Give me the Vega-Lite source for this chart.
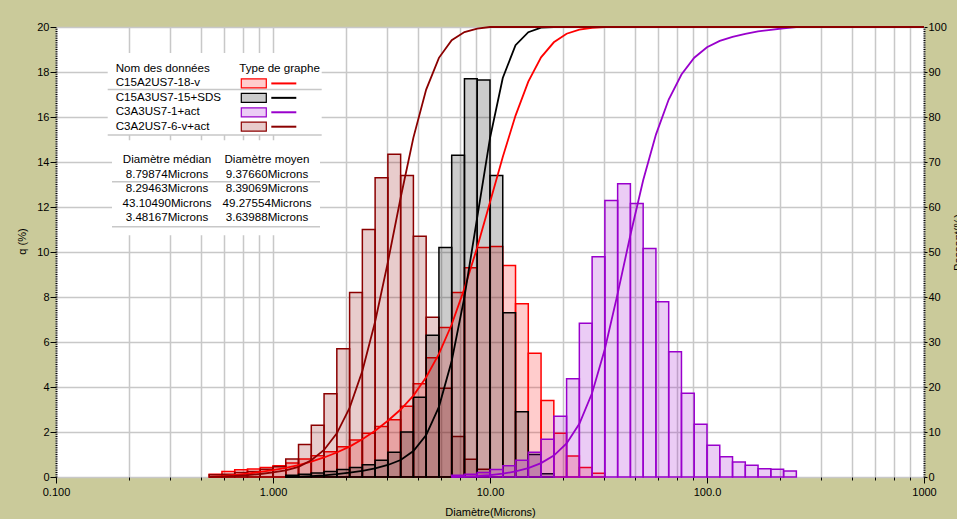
{
"$schema":"https://vega.github.io/schema/vega-lite/v6.json",
"width":868,"height":450,
"autosize":{"type":"none"},
"padding":{"left":56,"top":27,"right":33,"bottom":42},
"background":"#caca9a",
"config":{
 "view":{"fill":"white","stroke":null},
 "font":"Liberation Sans",
 "axis":{"labelFont":"Liberation Sans","labelFontSize":11,"labelColor":"#000000","titleFont":"Liberation Sans","titleFontSize":11,"titleFontWeight":"normal","titleColor":"#000000","tickColor":"#000000","gridColor":"#c8c8c8","gridWidth":1.5,"labelFlush":false,"labelOverlap":false,"domainColor":"#000000"},
 "text":{"font":"Liberation Sans","fontSize":11}
},
"datasets":{
 "bars":[
  {"s":"C15A2US7-18-v","lo":0.508,"hi":0.5817,"q":0.12},
  {"s":"C15A2US7-18-v","lo":0.5817,"hi":0.6661,"q":0.25},
  {"s":"C15A2US7-18-v","lo":0.6661,"hi":0.7627,"q":0.32},
  {"s":"C15A2US7-18-v","lo":0.7627,"hi":0.8733,"q":0.36},
  {"s":"C15A2US7-18-v","lo":0.8733,"hi":1,"q":0.42},
  {"s":"C15A2US7-18-v","lo":1,"hi":1.145,"q":0.5},
  {"s":"C15A2US7-18-v","lo":1.145,"hi":1.3111,"q":0.62},
  {"s":"C15A2US7-18-v","lo":1.3111,"hi":1.5013,"q":0.8},
  {"s":"C15A2US7-18-v","lo":1.5013,"hi":1.719,"q":0.95},
  {"s":"C15A2US7-18-v","lo":1.719,"hi":1.9684,"q":1.12},
  {"s":"C15A2US7-18-v","lo":1.9684,"hi":2.2539,"q":1.35},
  {"s":"C15A2US7-18-v","lo":2.2539,"hi":2.5808,"q":1.65},
  {"s":"C15A2US7-18-v","lo":2.5808,"hi":2.9551,"q":1.95},
  {"s":"C15A2US7-18-v","lo":2.9551,"hi":3.3837,"q":2.25},
  {"s":"C15A2US7-18-v","lo":3.3837,"hi":3.8745,"q":2.55},
  {"s":"C15A2US7-18-v","lo":3.8745,"hi":4.4363,"q":3.15},
  {"s":"C15A2US7-18-v","lo":4.4363,"hi":5.0797,"q":4.15},
  {"s":"C15A2US7-18-v","lo":5.0797,"hi":5.8164,"q":5.3},
  {"s":"C15A2US7-18-v","lo":5.8164,"hi":6.66,"q":6.65},
  {"s":"C15A2US7-18-v","lo":6.66,"hi":7.626,"q":8.2},
  {"s":"C15A2US7-18-v","lo":7.626,"hi":8.7321,"q":9.3},
  {"s":"C15A2US7-18-v","lo":8.7321,"hi":10,"q":10.2},
  {"s":"C15A2US7-18-v","lo":10,"hi":11.45,"q":10.25},
  {"s":"C15A2US7-18-v","lo":11.45,"hi":13.111,"q":9.4},
  {"s":"C15A2US7-18-v","lo":13.111,"hi":15.013,"q":7.7},
  {"s":"C15A2US7-18-v","lo":15.013,"hi":17.19,"q":5.5},
  {"s":"C15A2US7-18-v","lo":17.19,"hi":19.684,"q":3.4},
  {"s":"C15A2US7-18-v","lo":19.684,"hi":22.539,"q":1.95},
  {"s":"C15A2US7-18-v","lo":22.539,"hi":25.808,"q":0.93},
  {"s":"C15A2US7-18-v","lo":25.808,"hi":29.551,"q":0.42},
  {"s":"C15A2US7-18-v","lo":29.551,"hi":33.837,"q":0.17},
  {"s":"C3A2US7-6-v+act","lo":0.508,"hi":0.5817,"q":0.1},
  {"s":"C3A2US7-6-v+act","lo":0.5817,"hi":0.6661,"q":0.12},
  {"s":"C3A2US7-6-v+act","lo":0.6661,"hi":0.7627,"q":0.2},
  {"s":"C3A2US7-6-v+act","lo":0.7627,"hi":0.8733,"q":0.25},
  {"s":"C3A2US7-6-v+act","lo":0.8733,"hi":1,"q":0.35},
  {"s":"C3A2US7-6-v+act","lo":1,"hi":1.145,"q":0.46},
  {"s":"C3A2US7-6-v+act","lo":1.145,"hi":1.3111,"q":0.8},
  {"s":"C3A2US7-6-v+act","lo":1.3111,"hi":1.5013,"q":1.45},
  {"s":"C3A2US7-6-v+act","lo":1.5013,"hi":1.719,"q":2.3},
  {"s":"C3A2US7-6-v+act","lo":1.719,"hi":1.9684,"q":3.7},
  {"s":"C3A2US7-6-v+act","lo":1.9684,"hi":2.2539,"q":5.7},
  {"s":"C3A2US7-6-v+act","lo":2.2539,"hi":2.5808,"q":8.2},
  {"s":"C3A2US7-6-v+act","lo":2.5808,"hi":2.9551,"q":11.0},
  {"s":"C3A2US7-6-v+act","lo":2.9551,"hi":3.3837,"q":13.3},
  {"s":"C3A2US7-6-v+act","lo":3.3837,"hi":3.8745,"q":14.35},
  {"s":"C3A2US7-6-v+act","lo":3.8745,"hi":4.4363,"q":13.4},
  {"s":"C3A2US7-6-v+act","lo":4.4363,"hi":5.0797,"q":10.7},
  {"s":"C3A2US7-6-v+act","lo":5.0797,"hi":5.8164,"q":7.1},
  {"s":"C3A2US7-6-v+act","lo":5.8164,"hi":6.66,"q":3.94},
  {"s":"C3A2US7-6-v+act","lo":6.66,"hi":7.626,"q":1.8},
  {"s":"C3A2US7-6-v+act","lo":7.626,"hi":8.7321,"q":0.79},
  {"s":"C3A2US7-6-v+act","lo":8.7321,"hi":10,"q":0.34},
  {"s":"C15A3US7-15+SDS","lo":1.145,"hi":1.3111,"q":0.08},
  {"s":"C15A3US7-15+SDS","lo":1.3111,"hi":1.5013,"q":0.12},
  {"s":"C15A3US7-15+SDS","lo":1.5013,"hi":1.719,"q":0.18},
  {"s":"C15A3US7-15+SDS","lo":1.719,"hi":1.9684,"q":0.25},
  {"s":"C15A3US7-15+SDS","lo":1.9684,"hi":2.2539,"q":0.33},
  {"s":"C15A3US7-15+SDS","lo":2.2539,"hi":2.5808,"q":0.42},
  {"s":"C15A3US7-15+SDS","lo":2.5808,"hi":2.9551,"q":0.55},
  {"s":"C15A3US7-15+SDS","lo":2.9551,"hi":3.3837,"q":0.75},
  {"s":"C15A3US7-15+SDS","lo":3.3837,"hi":3.8745,"q":1.1},
  {"s":"C15A3US7-15+SDS","lo":3.8745,"hi":4.4363,"q":2.0},
  {"s":"C15A3US7-15+SDS","lo":4.4363,"hi":5.0797,"q":3.55},
  {"s":"C15A3US7-15+SDS","lo":5.0797,"hi":5.8164,"q":6.3},
  {"s":"C15A3US7-15+SDS","lo":5.8164,"hi":6.66,"q":10.2},
  {"s":"C15A3US7-15+SDS","lo":6.66,"hi":7.626,"q":14.3},
  {"s":"C15A3US7-15+SDS","lo":7.626,"hi":8.7321,"q":17.7},
  {"s":"C15A3US7-15+SDS","lo":8.7321,"hi":10,"q":17.65},
  {"s":"C15A3US7-15+SDS","lo":10,"hi":11.45,"q":13.4},
  {"s":"C15A3US7-15+SDS","lo":11.45,"hi":13.111,"q":7.3},
  {"s":"C15A3US7-15+SDS","lo":13.111,"hi":15.013,"q":2.9},
  {"s":"C15A3US7-15+SDS","lo":15.013,"hi":17.19,"q":1.0},
  {"s":"C15A3US7-15+SDS","lo":17.19,"hi":19.684,"q":0.15},
  {"s":"C3A3US7-1+act","lo":6.66,"hi":7.626,"q":0.08},
  {"s":"C3A3US7-1+act","lo":7.626,"hi":8.7321,"q":0.12},
  {"s":"C3A3US7-1+act","lo":8.7321,"hi":10,"q":0.2},
  {"s":"C3A3US7-1+act","lo":10,"hi":11.45,"q":0.33},
  {"s":"C3A3US7-1+act","lo":11.45,"hi":13.111,"q":0.5},
  {"s":"C3A3US7-1+act","lo":13.111,"hi":15.013,"q":0.75},
  {"s":"C3A3US7-1+act","lo":15.013,"hi":17.19,"q":1.1},
  {"s":"C3A3US7-1+act","lo":17.19,"hi":19.684,"q":1.68},
  {"s":"C3A3US7-1+act","lo":19.684,"hi":22.539,"q":2.7},
  {"s":"C3A3US7-1+act","lo":22.539,"hi":25.808,"q":4.37},
  {"s":"C3A3US7-1+act","lo":25.808,"hi":29.551,"q":6.83},
  {"s":"C3A3US7-1+act","lo":29.551,"hi":33.837,"q":9.79},
  {"s":"C3A3US7-1+act","lo":33.837,"hi":38.745,"q":12.29},
  {"s":"C3A3US7-1+act","lo":38.745,"hi":44.363,"q":13.03},
  {"s":"C3A3US7-1+act","lo":44.363,"hi":50.797,"q":12.16},
  {"s":"C3A3US7-1+act","lo":50.797,"hi":58.164,"q":10.16},
  {"s":"C3A3US7-1+act","lo":58.164,"hi":66.6,"q":7.79},
  {"s":"C3A3US7-1+act","lo":66.6,"hi":76.26,"q":5.57},
  {"s":"C3A3US7-1+act","lo":76.26,"hi":87.321,"q":3.72},
  {"s":"C3A3US7-1+act","lo":87.321,"hi":100,"q":2.34},
  {"s":"C3A3US7-1+act","lo":100,"hi":114.5,"q":1.41},
  {"s":"C3A3US7-1+act","lo":114.5,"hi":131.11,"q":0.9},
  {"s":"C3A3US7-1+act","lo":131.11,"hi":150.13,"q":0.67},
  {"s":"C3A3US7-1+act","lo":150.13,"hi":171.9,"q":0.52},
  {"s":"C3A3US7-1+act","lo":171.9,"hi":196.84,"q":0.37},
  {"s":"C3A3US7-1+act","lo":196.84,"hi":225.39,"q":0.34},
  {"s":"C3A3US7-1+act","lo":225.39,"hi":258.08,"q":0.27}
 ],
 "curves":[
  {"s":"C15A2US7-18-v","d":0.508,"cum":0},{"s":"C15A2US7-18-v","d":0.5817,"cum":0.2},{"s":"C15A2US7-18-v","d":0.6661,"cum":0.45},{"s":"C15A2US7-18-v","d":0.7627,"cum":0.77},{"s":"C15A2US7-18-v","d":0.8733,"cum":1.12},{"s":"C15A2US7-18-v","d":1,"cum":1.53},{"s":"C15A2US7-18-v","d":1.145,"cum":2.02},{"s":"C15A2US7-18-v","d":1.3111,"cum":2.63},{"s":"C15A2US7-18-v","d":1.5013,"cum":3.41},{"s":"C15A2US7-18-v","d":1.719,"cum":4.34},{"s":"C15A2US7-18-v","d":1.9684,"cum":5.44},{"s":"C15A2US7-18-v","d":2.2539,"cum":6.76},{"s":"C15A2US7-18-v","d":2.5808,"cum":8.38},{"s":"C15A2US7-18-v","d":2.9551,"cum":10.29},{"s":"C15A2US7-18-v","d":3.3837,"cum":12.5},{"s":"C15A2US7-18-v","d":3.8745,"cum":15.0},{"s":"C15A2US7-18-v","d":4.4363,"cum":18.09},{"s":"C15A2US7-18-v","d":5.0797,"cum":22.16},{"s":"C15A2US7-18-v","d":5.8164,"cum":27.36},{"s":"C15A2US7-18-v","d":6.66,"cum":33.88},{"s":"C15A2US7-18-v","d":7.626,"cum":41.92},{"s":"C15A2US7-18-v","d":8.7321,"cum":51.04},{"s":"C15A2US7-18-v","d":10,"cum":61.05},{"s":"C15A2US7-18-v","d":11.45,"cum":71.1},{"s":"C15A2US7-18-v","d":13.111,"cum":80.32},{"s":"C15A2US7-18-v","d":15.013,"cum":87.87},{"s":"C15A2US7-18-v","d":17.19,"cum":93.26},{"s":"C15A2US7-18-v","d":19.684,"cum":96.6},{"s":"C15A2US7-18-v","d":22.539,"cum":98.51},{"s":"C15A2US7-18-v","d":25.808,"cum":99.42},{"s":"C15A2US7-18-v","d":29.551,"cum":99.83},{"s":"C15A2US7-18-v","d":33.837,"cum":100},{"s":"C15A2US7-18-v","d":1000,"cum":100},
  {"s":"C15A3US7-15+SDS","d":1.145,"cum":0},{"s":"C15A3US7-15+SDS","d":1.3111,"cum":0.08},{"s":"C15A3US7-15+SDS","d":1.5013,"cum":0.2},{"s":"C15A3US7-15+SDS","d":1.719,"cum":0.38},{"s":"C15A3US7-15+SDS","d":1.9684,"cum":0.63},{"s":"C15A3US7-15+SDS","d":2.2539,"cum":0.96},{"s":"C15A3US7-15+SDS","d":2.5808,"cum":1.38},{"s":"C15A3US7-15+SDS","d":2.9551,"cum":1.93},{"s":"C15A3US7-15+SDS","d":3.3837,"cum":2.67},{"s":"C15A3US7-15+SDS","d":3.8745,"cum":3.77},{"s":"C15A3US7-15+SDS","d":4.4363,"cum":5.77},{"s":"C15A3US7-15+SDS","d":5.0797,"cum":9.31},{"s":"C15A3US7-15+SDS","d":5.8164,"cum":15.59},{"s":"C15A3US7-15+SDS","d":6.66,"cum":25.77},{"s":"C15A3US7-15+SDS","d":7.626,"cum":40.04},{"s":"C15A3US7-15+SDS","d":8.7321,"cum":57.7},{"s":"C15A3US7-15+SDS","d":10,"cum":75.31},{"s":"C15A3US7-15+SDS","d":11.45,"cum":88.68},{"s":"C15A3US7-15+SDS","d":13.111,"cum":95.96},{"s":"C15A3US7-15+SDS","d":15.013,"cum":98.85},{"s":"C15A3US7-15+SDS","d":17.19,"cum":99.85},{"s":"C15A3US7-15+SDS","d":19.684,"cum":100},{"s":"C15A3US7-15+SDS","d":1000,"cum":100},
  {"s":"C3A3US7-1+act","d":6.66,"cum":0},{"s":"C3A3US7-1+act","d":7.626,"cum":0.08},{"s":"C3A3US7-1+act","d":8.7321,"cum":0.2},{"s":"C3A3US7-1+act","d":10,"cum":0.4},{"s":"C3A3US7-1+act","d":11.45,"cum":0.73},{"s":"C3A3US7-1+act","d":13.111,"cum":1.23},{"s":"C3A3US7-1+act","d":15.013,"cum":1.98},{"s":"C3A3US7-1+act","d":17.19,"cum":3.08},{"s":"C3A3US7-1+act","d":19.684,"cum":4.76},{"s":"C3A3US7-1+act","d":22.539,"cum":7.46},{"s":"C3A3US7-1+act","d":25.808,"cum":11.83},{"s":"C3A3US7-1+act","d":29.551,"cum":18.66},{"s":"C3A3US7-1+act","d":33.837,"cum":28.45},{"s":"C3A3US7-1+act","d":38.745,"cum":40.74},{"s":"C3A3US7-1+act","d":44.363,"cum":53.77},{"s":"C3A3US7-1+act","d":50.797,"cum":65.93},{"s":"C3A3US7-1+act","d":58.164,"cum":76.09},{"s":"C3A3US7-1+act","d":66.6,"cum":83.88},{"s":"C3A3US7-1+act","d":76.26,"cum":89.45},{"s":"C3A3US7-1+act","d":87.321,"cum":93.17},{"s":"C3A3US7-1+act","d":100,"cum":95.51},{"s":"C3A3US7-1+act","d":114.5,"cum":96.92},{"s":"C3A3US7-1+act","d":131.11,"cum":97.82},{"s":"C3A3US7-1+act","d":150.13,"cum":98.49},{"s":"C3A3US7-1+act","d":171.9,"cum":99.01},{"s":"C3A3US7-1+act","d":196.84,"cum":99.38},{"s":"C3A3US7-1+act","d":225.39,"cum":99.72},{"s":"C3A3US7-1+act","d":258.08,"cum":100},{"s":"C3A3US7-1+act","d":1000,"cum":100},
  {"s":"C3A2US7-6-v+act","d":0.508,"cum":0},{"s":"C3A2US7-6-v+act","d":0.5817,"cum":0.1},{"s":"C3A2US7-6-v+act","d":0.6661,"cum":0.22},{"s":"C3A2US7-6-v+act","d":0.7627,"cum":0.42},{"s":"C3A2US7-6-v+act","d":0.8733,"cum":0.67},{"s":"C3A2US7-6-v+act","d":1,"cum":1.02},{"s":"C3A2US7-6-v+act","d":1.145,"cum":1.47},{"s":"C3A2US7-6-v+act","d":1.3111,"cum":2.27},{"s":"C3A2US7-6-v+act","d":1.5013,"cum":3.72},{"s":"C3A2US7-6-v+act","d":1.719,"cum":6.01},{"s":"C3A2US7-6-v+act","d":1.9684,"cum":9.7},{"s":"C3A2US7-6-v+act","d":2.2539,"cum":15.38},{"s":"C3A2US7-6-v+act","d":2.5808,"cum":23.55},{"s":"C3A2US7-6-v+act","d":2.9551,"cum":34.51},{"s":"C3A2US7-6-v+act","d":3.3837,"cum":47.76},{"s":"C3A2US7-6-v+act","d":3.8745,"cum":62.06},{"s":"C3A2US7-6-v+act","d":4.4363,"cum":75.42},{"s":"C3A2US7-6-v+act","d":5.0797,"cum":86.08},{"s":"C3A2US7-6-v+act","d":5.8164,"cum":93.15},{"s":"C3A2US7-6-v+act","d":6.66,"cum":97.08},{"s":"C3A2US7-6-v+act","d":7.626,"cum":98.87},{"s":"C3A2US7-6-v+act","d":8.7321,"cum":99.66},{"s":"C3A2US7-6-v+act","d":10,"cum":100},{"s":"C3A2US7-6-v+act","d":1000,"cum":100}
 ],
 "legend":[
  {"row":"h","col":"name","label":"Nom des données"},
  {"row":"h","col":"type","label":"Type de graphe"},
  {"row":"r1","col":"name","label":"C15A2US7-18-v"},
  {"row":"r1","col":"type","s":"C15A2US7-18-v"},
  {"row":"r2","col":"name","label":"C15A3US7-15+SDS"},
  {"row":"r2","col":"type","s":"C15A3US7-15+SDS"},
  {"row":"r3","col":"name","label":"C3A3US7-1+act"},
  {"row":"r3","col":"type","s":"C3A3US7-1+act"},
  {"row":"r4","col":"name","label":"C3A2US7-6-v+act"},
  {"row":"r4","col":"type","s":"C3A2US7-6-v+act"}
 ],
 "stats":[
  {"row":"h","col":"med","label":"Diamètre médian"},
  {"row":"h","col":"moy","label":"Diamètre moyen"},
  {"row":"s1","col":"med","label":"8.79874Microns"},
  {"row":"s1","col":"moy","label":"9.37660Microns"},
  {"row":"s2","col":"med","label":"8.29463Microns"},
  {"row":"s2","col":"moy","label":"8.39069Microns"},
  {"row":"s3","col":"med","label":"43.10490Microns"},
  {"row":"s3","col":"moy","label":"49.27554Microns"},
  {"row":"s4","col":"med","label":"3.48167Microns"},
  {"row":"s4","col":"moy","label":"3.63988Microns"}
 ]
},
"resolve":{"scale":{"x":"independent","y":"independent"}},
"layer":[
 {
  "data":{"name":"bars"},
  "mark":{"type":"rect","fillOpacity":0.2,"strokeWidth":1.5},
  "encoding":{
   "x":{"field":"lo","type":"quantitative","scale":{"type":"log","domain":[0.1,1000]},
        "axis":{"orient":"bottom","values":[0.1,1,10,100,1000],"labelExpr":"datum.value < 0.5 ? '0.100' : datum.value < 5 ? '1.000' : datum.value < 50 ? '10.00' : datum.value < 500 ? '100.0' : '1000'","tickSize":6,"labelPadding":3,"domain":false,"grid":true,"title":"Diamètre(Microns)","titleX":434,"titleY":35,"titleBaseline":"middle","titleAlign":"center"}},
   "x2":{"field":"hi"},
   "y":{"field":"q","type":"quantitative","scale":{"domain":[0,20],"nice":false},
        "axis":{"orient":"left","values":[0,2,4,6,8,10,12,14,16,18,20],"tickSize":6,"labelPadding":1,"domainDash":[1,1.25],"domainWidth":2,"grid":true,"title":"q (%)","titleAngle":270,"titleX":-34,"titleY":214,"titleAlign":"center","titleBaseline":"middle"}},
   "y2":{"datum":0},
   "fill":{"field":"s","type":"nominal","scale":{"domain":["C15A2US7-18-v","C15A3US7-15+SDS","C3A3US7-1+act","C3A2US7-6-v+act"],"range":["#ff0000","#000000","#9900cc","#8b0000"]},"legend":null},
   "stroke":{"field":"s","type":"nominal","scale":{"domain":["C15A2US7-18-v","C15A3US7-15+SDS","C3A3US7-1+act","C3A2US7-6-v+act"],"range":["#ff0000","#000000","#9900cc","#8b0000"]},"legend":null}
  }
 },
 {
  "data":{"name":"curves"},
  "mark":{"type":"line","strokeWidth":1.8},
  "encoding":{
   "x":{"field":"d","type":"quantitative","scale":{"type":"log","domain":[0.1,1000]},
        "axis":{"orient":"bottom","values":[0.217,0.337,0.467,0.592,0.726,0.861,2.17,3.37,4.67,5.92,7.26,8.61,21.7,33.7,46.7,59.2,72.6,86.1,217,337,467,592,726,861],"labels":false,"tickSize":3,"domain":false,"grid":true,"title":null}},
   "y":{"field":"cum","type":"quantitative","scale":{"domain":[0,100],"nice":false},
        "axis":{"orient":"right","values":[0,10,20,30,40,50,60,70,80,90,100],"tickSize":3,"labelPadding":1,"domainDash":[1,1.25],"domainWidth":2,"grid":false,"title":"Passant(%)","titleAngle":270,"titleX":34,"titleY":215,"titleAlign":"center","titleBaseline":"middle"}},
   "stroke":{"field":"s","type":"nominal","scale":{"domain":["C15A2US7-18-v","C15A3US7-15+SDS","C3A3US7-1+act","C3A2US7-6-v+act"],"range":["#ff0000","#000000","#9900cc","#8b0000"]},"legend":null}
  }
 },
 {
  "data":{"name":"legend"},
  "layer":[
   {"transform":[{"filter":"datum.row == 'h' && datum.col == 'name'"}],
    "mark":{"type":"point","shape":"M-8,-16H206V66H-8Z","size":4,"filled":true,"fill":"white","strokeWidth":0,"opacity":1},
    "encoding":{
     "x":{"field":"col","type":"nominal","scale":{"type":"point","domain":["name","type"],"range":[59.7,183.3],"padding":0},"axis":null},
     "y":{"field":"row","type":"nominal","scale":{"type":"point","domain":["h","r1","r2","r3","r4"],"range":[42,99.7],"padding":0},"axis":null}}},
   {"transform":[{"filter":"datum.row == 'h' && datum.col == 'name'"}],
    "mark":{"type":"point","shape":"M-8,20.5H206M-8,66H206","size":4,"filled":false,"stroke":"#c8c8c8","strokeWidth":1.5,"opacity":1},
    "encoding":{
     "x":{"field":"col","type":"nominal","scale":{"type":"point","domain":["name","type"],"range":[59.7,183.3],"padding":0},"axis":null},
     "y":{"field":"row","type":"nominal","scale":{"type":"point","domain":["h","r1","r2","r3","r4"],"range":[42,99.7],"padding":0},"axis":null}}},
   {"transform":[{"filter":"isValid(datum.label)"}],
    "mark":{"type":"text","align":"left","baseline":"middle","fontSize":11.6,"color":"#000000"},
    "encoding":{
     "x":{"field":"col","type":"nominal","scale":{"type":"point","domain":["name","type"],"range":[59.7,183.3],"padding":0},"axis":null},
     "y":{"field":"row","type":"nominal","scale":{"type":"point","domain":["h","r1","r2","r3","r4"],"range":[42,99.7],"padding":0},"axis":null},
     "text":{"field":"label"}}},
   {"transform":[{"filter":"isValid(datum.s)"}],
    "mark":{"type":"point","shape":"M2,-4.5H27V4.5H2Z","size":4,"filled":true,"fillOpacity":0.2,"strokeWidth":1.2,"opacity":1},
    "encoding":{
     "x":{"field":"col","type":"nominal","scale":{"type":"point","domain":["name","type"],"range":[59.7,183.3],"padding":0},"axis":null},
     "y":{"field":"row","type":"nominal","scale":{"type":"point","domain":["h","r1","r2","r3","r4"],"range":[42,99.7],"padding":0},"axis":null},
     "fill":{"field":"s","type":"nominal","scale":{"domain":["C15A2US7-18-v","C15A3US7-15+SDS","C3A3US7-1+act","C3A2US7-6-v+act"],"range":["#ff0000","#000000","#9900cc","#8b0000"]},"legend":null},
     "stroke":{"field":"s","type":"nominal","scale":{"domain":["C15A2US7-18-v","C15A3US7-15+SDS","C3A3US7-1+act","C3A2US7-6-v+act"],"range":["#ff0000","#000000","#9900cc","#8b0000"]},"legend":null}}},
   {"transform":[{"filter":"isValid(datum.s)"}],
    "mark":{"type":"point","shape":"M32,0H57","size":4,"filled":false,"strokeWidth":2,"opacity":1},
    "encoding":{
     "x":{"field":"col","type":"nominal","scale":{"type":"point","domain":["name","type"],"range":[59.7,183.3],"padding":0},"axis":null},
     "y":{"field":"row","type":"nominal","scale":{"type":"point","domain":["h","r1","r2","r3","r4"],"range":[42,99.7],"padding":0},"axis":null},
     "stroke":{"field":"s","type":"nominal","scale":{"domain":["C15A2US7-18-v","C15A3US7-15+SDS","C3A3US7-1+act","C3A2US7-6-v+act"],"range":["#ff0000","#000000","#9900cc","#8b0000"]},"legend":null}}}
  ]
 },
 {
  "data":{"name":"stats"},
  "layer":[
   {"transform":[{"filter":"datum.row == 'h' && datum.col == 'med'"}],
    "mark":{"type":"point","shape":"M-55,-20H153V75H-55Z","size":4,"filled":true,"fill":"white","strokeWidth":0,"opacity":1},
    "encoding":{
     "x":{"field":"col","type":"nominal","scale":{"type":"point","domain":["med","moy"],"range":[111,211],"padding":0},"axis":null},
     "y":{"field":"row","type":"nominal","scale":{"type":"point","domain":["h","s1","s2","s3","s4"],"range":[133.3,191.3],"padding":0},"axis":null}}},
   {"transform":[{"filter":"datum.row == 'h' && datum.col == 'med'"}],
    "mark":{"type":"point","shape":"M-55,21.4H153M-55,66.4H153","size":4,"filled":false,"stroke":"#c8c8c8","strokeWidth":1.5,"opacity":1},
    "encoding":{
     "x":{"field":"col","type":"nominal","scale":{"type":"point","domain":["med","moy"],"range":[111,211],"padding":0},"axis":null},
     "y":{"field":"row","type":"nominal","scale":{"type":"point","domain":["h","s1","s2","s3","s4"],"range":[133.3,191.3],"padding":0},"axis":null}}},
   {"mark":{"type":"text","align":"center","baseline":"middle","fontSize":11.6,"color":"#000000"},
    "encoding":{
     "x":{"field":"col","type":"nominal","scale":{"type":"point","domain":["med","moy"],"range":[111,211],"padding":0},"axis":null},
     "y":{"field":"row","type":"nominal","scale":{"type":"point","domain":["h","s1","s2","s3","s4"],"range":[133.3,191.3],"padding":0},"axis":null},
     "text":{"field":"label"}}}
  ]
 }
]
}
